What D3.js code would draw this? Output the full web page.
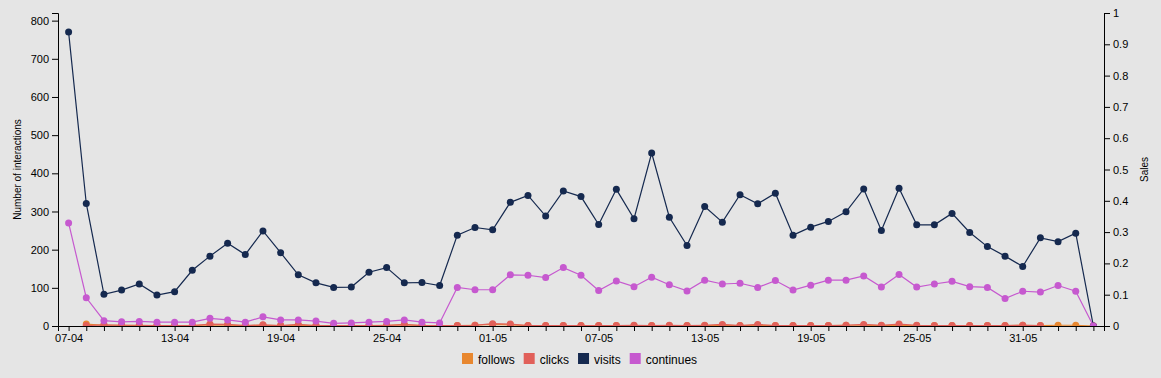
<!DOCTYPE html>
<html>
<head>
<meta charset="utf-8">
<script src="https://cdn.jsdelivr.net/npm/d3@7"></script>
<style>
  body { margin: 0; background: #e5e5e5; font-family: "Liberation Sans", Arial, sans-serif; }
  svg { display: block; }
  .axis text { font-size: 11px; fill: #000; }
  .axis path, .axis line { stroke: #000; }
</style>
</head>
<body>
<svg id="chart" width="1161" height="378"></svg>
<script>
// days from 07-04 to 04-06
const days = d3.timeDay.range(new Date(2020, 3, 7), new Date(2020, 5, 5));
const fmt = d3.timeFormat("%d-%m");
const dayLabels = days.map(fmt);
const tickLabels = ["07-04", "13-04", "19-04", "25-04", "01-05", "07-05", "13-05", "19-05", "25-05", "31-05"];

const visits = [770, 321, 83, 94, 110, 81, 90, 146, 183, 217, 187, 249, 192, 134, 113, 101, 102, 141, 153, 113,
  114, 106, 238, 258, 252, 324, 342, 288, 354, 339, 266, 358, 281, 453, 285, 211, 313, 272, 344, 320,
  348, 238, 259, 274, 299, 359, 250, 361, 265, 265, 295, 245, 208, 183, 156, 231, 221, 243, 0];
const continues = [270, 74, 14, 11, 12, 10, 10, 10, 20, 16, 10, 24, 16, 16, 13, 7, 8, 10, 12, 16,
  10, 8, 101, 95, 95, 134, 133, 127, 153, 133, 93, 118, 103, 128, 108, 92, 120, 110, 112, 101,
  119, 94, 107, 120, 120, 131, 102, 135, 102, 110, 117, 103, 101, 72, 91, 89, 106, 91, 0];
const follows = [null, 5, 2, 2, 1, 1, 1, 1, 3, 2, 1, 2, 1, 2, 1, 1, 1, 1, 2, 3,
  1, 1, 1, 2, 4, 3, 1, 1, 1, 1, 1, 1, 1, 1, 1, 1, 1, 2, 1, 2,
  1, 1, 1, 1, 2, 2, 1, 2, 1, 1, 1, 1, 1, 1, 2, 1, 2, 2, 0];
const clicks = [null, 1, 3, 2, 2, 1, 1, 1, 5, 4, 1, 3, 1, 4, 1, 1, 1, 1, 1, 4,
  1, 1, 1, 2, 6, 5, 1, 1, 1, 1, 1, 1, 2, 1, 2, 1, 2, 4, 1, 4,
  1, 1, 1, 1, 2, 4, 2, 5, 2, 1, 1, 1, 1, 1, 2, 1, null, null, 0];

const seriesNames = ["follows", "clicks", "visits", "continues"];
const seriesColors = ["#e8872f", "#e1605a", "#15294f", "#c659cf"];
const seriesValues = [follows, clicks, visits, continues];

const svg = d3.select("#chart");
const margin = { top: 13, right: 57, bottom: 52, left: 58 };
const width = 1161 - margin.left - margin.right;
const height = 378 - margin.top - margin.bottom;

const g = svg.append("g").attr("transform", `translate(${margin.left},${margin.top})`);

const x = d3.scalePoint().domain(dayLabels).range([0, width]).padding(0.6);
const y = d3.scaleLinear().domain([0, 820]).range([height, 0]);
const ySales = d3.scaleLinear().domain([0, 1]).range([height, 0]);

g.append("defs").append("clipPath").attr("id", "clip")
  .append("rect").attr("x", -10).attr("y", -10).attr("width", width + 20).attr("height", height + 10);

g.append("g").attr("class", "axis")
  .attr("transform", `translate(0,${height})`)
  .call(d3.axisBottom(x).tickSize(5).tickFormat(d => tickLabels.includes(d) ? d : ""));

g.append("g").attr("class", "axis")
  .call(d3.axisLeft(y).tickValues(d3.range(0, 801, 100)).tickSize(6));

g.append("g").attr("class", "axis")
  .attr("transform", `translate(${width},0)`)
  .call(d3.axisRight(ySales).ticks(10).tickFormat(d3.format("")).tickSize(6));

g.append("text")
  .attr("transform", `translate(${-37},${height / 2}) rotate(-90)`)
  .attr("text-anchor", "middle")
  .attr("font-size", 10)
  .text("Number of interactions");

g.append("text")
  .attr("transform", `translate(${width + 44},${height / 2}) rotate(-90)`)
  .attr("text-anchor", "middle")
  .attr("font-size", 10)
  .text("Sales");

const plot = g.append("g").attr("clip-path", "url(#clip)");

const line = d3.line()
  .defined(d => d.v != null)
  .x(d => x(d.day))
  .y(d => y(d.v));

seriesNames.forEach((name, i) => {
  const pts = dayLabels.map((day, j) => ({ day, v: seriesValues[i][j] }));
  const s = plot.append("g");
  s.append("path")
    .datum(pts)
    .attr("fill", "none")
    .attr("stroke", seriesColors[i])
    .attr("stroke-width", 1.2)
    .attr("d", line);
  s.selectAll("circle")
    .data(pts.filter(d => d.v != null))
    .enter()
    .append("circle")
    .attr("cx", d => x(d.day))
    .attr("cy", d => y(d.v))
    .attr("r", 3.5)
    .attr("fill", seriesColors[i]);
});

// legend
const legend = svg.append("g");
let lx = 0;
seriesNames.forEach((name, i) => {
  const it = legend.append("g").attr("transform", `translate(${lx},0)`);
  it.append("rect").attr("width", 11).attr("height", 11).attr("fill", seriesColors[i]);
  const t = it.append("text").attr("x", 16).attr("y", 10.5).attr("font-size", 12).text(name);
  lx += 16 + t.node().getComputedTextLength() + 9;
});
const legendW = lx - 9;
legend.attr("transform", `translate(${Math.round(580 - legendW / 2)},353)`);
</script>
</body>
</html>
